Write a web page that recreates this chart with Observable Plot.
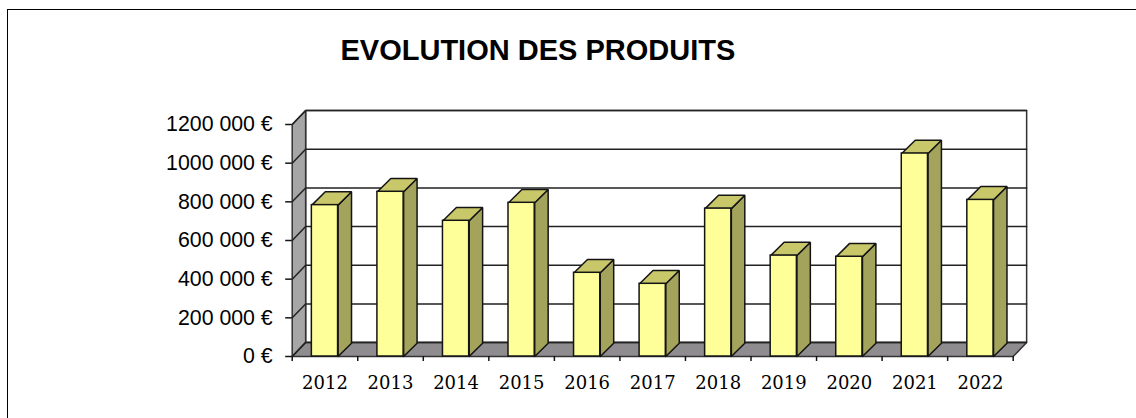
<!DOCTYPE html>
<html lang="fr">
<head>
<meta charset="utf-8">
<script src="https://cdn.jsdelivr.net/npm/d3@7"></script>
<script src="https://cdn.jsdelivr.net/npm/@observablehq/plot@0.6"></script>
<style>
  html, body { margin: 0; padding: 0; background: #fff; overflow: hidden; }
  #frame { position: absolute; left: 6.5px; top: 8.5px; right: 0; bottom: 0;
           border-left: 1.5px solid #000; border-top: 1.5px solid #000; }
  #title { position: absolute; left: 340.5px; top: 32px; margin: 0;
           font: bold 29px/36px "Liberation Sans", Arial, sans-serif; color: #000; white-space: nowrap; }
  #chart { position: absolute; left: 0; top: 80px; }
  #chart svg { display: block; overflow: visible; }
</style>
</head>
<body>
<div id="frame"></div>
<h1 id="title">EVOLUTION DES PRODUITS</h1>
<div id="chart"></div>
<script>
const years = [2012, 2013, 2014, 2015, 2016, 2017, 2018, 2019, 2020, 2021, 2022];
const produits = [783000, 852000, 702000, 795000, 433000, 376000, 765000, 522000, 516000, 1050000, 810000];
const yTicks = [0, 200000, 400000, 600000, 800000, 1000000, 1200000];
const yLabels = ["0 €", "200 000 €", "400 000 €", "600 000 €", "800 000 €", "1000 000 €", "1200 000 €"];

// 3D projection, in data units of the two scales
const depthX = 0.205, wallDepthY = 72000, barDepthY = 69000, barPad = 0.3;
const n = years.length, yMax = yTicks[yTicks.length - 1];
const ink = "#141414", wallInk = "#333333";

const face = (pts, fill, stroke = ink, sw = 1.5) => Plot.line(pts, {
  x: d => d[0], y: d => d[1], z: d => d[2] ?? 0, fill, stroke, strokeWidth: sw, strokeLinejoin: "miter"
});

const sideWall = [[0,0],[depthX,wallDepthY],[depthX,yMax+wallDepthY],[0,yMax],[0,0]];
const floor = [[0,0],[depthX,wallDepthY],[n+depthX,wallDepthY],[n,0],[0,0]];
const backWall = [[depthX,wallDepthY],[depthX,yMax+wallDepthY],[n+depthX,yMax+wallDepthY],[n+depthX,wallDepthY],[depthX,wallDepthY]];
const grid = yTicks.flatMap((t, k) => [[0,t,k],[depthX,t+wallDepthY,k],[n+depthX,t+wallDepthY,k]]);

const bars = years.map((year, i) => ({year, v: produits[i], x1: i + barPad, x2: i + 1 - barPad}));
const sides = bars.flatMap((b, k) => [[b.x2,0,k],[b.x2+depthX,barDepthY,k],[b.x2+depthX,b.v+barDepthY,k],[b.x2,b.v,k],[b.x2,0,k]]);
const tops = bars.flatMap((b, k) => [[b.x1,b.v,k],[b.x1+depthX,b.v+barDepthY,k],[b.x2+depthX,b.v+barDepthY,k],[b.x2,b.v,k],[b.x1,b.v,k]]);

const chart = Plot.plot({
  width: 1136,
  height: 338,
  marginLeft: 291.7,
  marginRight: 123.3,
  marginTop: 44,
  marginBottom: 62,
  style: {background: "transparent", overflow: "visible"},
  x: {type: "linear", domain: [0, n], axis: null},
  y: {type: "linear", domain: [0, yMax], axis: null},
  marks: [
    face(backWall, "#ffffff", wallInk),
    face(sideWall, "#a6a6a6", wallInk),
    face(floor, "#8f8c8f", wallInk),
    face(grid, "none", "#222222"),
    face(sides, "#a3a35c"),
    face(tops, "#c8c86a"),
    Plot.rect(bars, {x1: "x1", x2: "x2", y1: 0, y2: "v", fill: "#ffff99", stroke: ink, strokeWidth: 1.5}),
    Plot.axisY({
      ticks: yTicks, tickSize: 6.5, tickPadding: 13, stroke: ink, strokeWidth: 1.5,
      tickFormat: d => yLabels[yTicks.indexOf(d)], label: null,
      fontSize: 21.3, fontFamily: "Liberation Sans, Arial, sans-serif", fill: "#000"
    }),
    Plot.axisX({
      ticks: d3.range(n + 1), tickSize: 5, tickFormat: () => "", label: null, stroke: ink, strokeWidth: 1.5
    }),
    Plot.text(bars, {
      x: d => (d.x1 + d.x2) / 2, y: 0, text: d => String(d.year), dy: 27,
      fontSize: 18, fontFamily: "DejaVu Serif, serif", fill: "#000", textAnchor: "middle"
    })
  ]
});
document.getElementById("chart").append(chart);
</script>
</body>
</html>
